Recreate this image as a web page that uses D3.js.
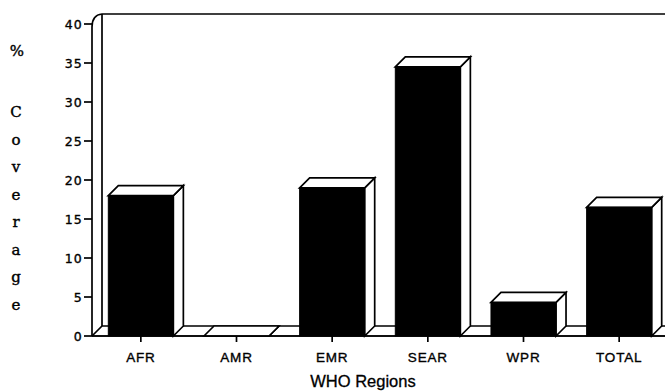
<!DOCTYPE html>
<html><head><meta charset="utf-8">
<script src="https://cdn.jsdelivr.net/npm/d3@7"></script>
<style>body{margin:0;background:#fff}svg{display:block}</style>
</head><body><svg id="c" width="665" height="391"></svg>
<script>
const categories = ["AFR","AMR","EMR","SEAR","WPR","TOTAL"];
const coverage = [18, 0, 19, 34.5, 4.3, 16.5];
const yTicks = [0,5,10,15,20,25,30,35,40];
const xTitle = "WHO Regions";
const yTitleLetters = ["C","o","v","e","r","a","g","e"];

(function(){
const svg = d3.select("#c");
const W = 665;
const dx = 10, dy = 10;
const x = d3.scaleBand().domain(categories).range([93, 667]).paddingInner(0.32).paddingOuter(0.16);
const y = d3.scaleLinear().domain([0, 40]).range([336, 24]);
const y0 = y(0);
const sw = 1.7;

const g = svg.append("g").attr("fill","none").attr("stroke","#000").attr("stroke-width",sw);
const xl = 92, yTop = y(40);
g.append("path").attr("d",`M${xl},${y0} L${xl},${yTop+3} Q${xl},${yTop-dy+1} ${xl+dx},${yTop-dy} L${W+2},${yTop-dy}`);
g.append("path").attr("d",`M${xl+dx},${yTop-dy} L${xl+dx},${y0-dy} L${W+2},${y0-dy}`);
g.append("path").attr("d",`M${xl},${y0} L${xl+dx},${y0-dy}`);
g.append("path").attr("d",`M${xl},${y0} L${W+2},${y0}`);

const ya = svg.append("g");
yTicks.forEach(t=>{
  ya.append("line").attr("x1",84).attr("x2",xl).attr("y1",y(t)).attr("y2",y(t)).attr("stroke","#000").attr("stroke-width",sw);
  ya.append("text").attr("x",83).attr("y",y(t)+4.5).attr("text-anchor","end")
    .attr("font-family","DejaVu Sans, sans-serif").attr("font-size",12.5).attr("letter-spacing",1.2)
    .attr("stroke","#000").attr("stroke-width",0.35)
    .text(t);
});

const bars = svg.append("g");
categories.forEach((c,i)=>{
  const v = coverage[i];
  const x0 = x(c), x1 = x(c)+x.bandwidth(), yt = y(v);
  bars.append("path").attr("d",`M${x1},${yt} L${x1+dx},${yt-dy} L${x1+dx},${y0-dy} L${x1},${y0} Z`)
    .attr("fill","#fff").attr("stroke","#000").attr("stroke-width",sw);
  bars.append("path").attr("d",`M${x0},${yt} L${x0+dx},${yt-dy} L${x1+dx},${yt-dy} L${x1},${yt} Z`)
    .attr("fill","#fff").attr("stroke","#000").attr("stroke-width",sw);
  if (v > 0) bars.append("rect").attr("x",x0).attr("y",yt).attr("width",x.bandwidth()).attr("height",y0-yt)
    .attr("fill","#000").attr("stroke","#000").attr("stroke-width",1);
});
svg.append("line").attr("x1",xl).attr("x2",W+2).attr("y1",y0).attr("y2",y0).attr("stroke","#000").attr("stroke-width",sw);

categories.forEach(c=>{
  const cx = x(c)+x.bandwidth()/2;
  svg.append("line").attr("x1",cx).attr("x2",cx).attr("y1",y0).attr("y2",y0+6).attr("stroke","#000").attr("stroke-width",sw);
  svg.append("text").attr("x",cx).attr("y",362).attr("text-anchor","middle")
    .attr("font-family","Liberation Sans, Arial, sans-serif").attr("font-size",13.5).attr("letter-spacing",0.8)
    .attr("stroke","#000").attr("stroke-width",0.35)
    .text(c);
});
svg.append("text").attr("x",363).attr("y",387).attr("text-anchor","middle")
  .attr("font-family","Liberation Sans, Arial, sans-serif").attr("font-size",16.5)
  .attr("stroke","#000").attr("stroke-width",0.3).text(xTitle);

svg.append("text").attr("x",17).attr("y",56).attr("text-anchor","middle")
  .attr("font-family","DejaVu Serif, serif").attr("font-size",15)
  .attr("stroke","#000").attr("stroke-width",0.4).text("%");
yTitleLetters.forEach((l,i)=>{
  svg.append("text").attr("x",16).attr("y",117+27.5*i).attr("text-anchor","middle")
    .attr("font-family","DejaVu Serif, serif").attr("font-size",15).text(l)
    .attr("stroke","#000").attr("stroke-width",0.4);
});
})();
</script></body></html>
